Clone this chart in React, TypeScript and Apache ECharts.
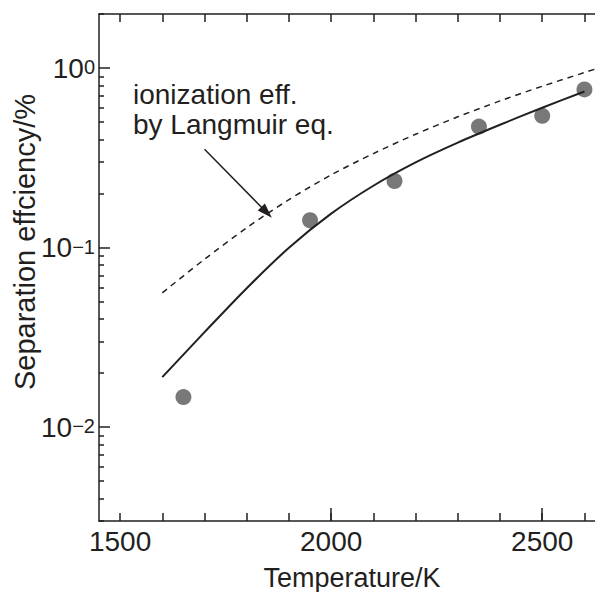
import React, { useEffect, useRef } from "react";
import * as echarts from "echarts";

// Measured separation efficiency (%)
const POINT_T = [1650, 1950, 2150, 2350, 2500, 2600];
const POINT_EFF = [0.0147, 0.142, 0.235, 0.472, 0.542, 0.76];

// Fitted curve (solid)
const FIT_T = [1600, 1700, 1800, 1900, 2000, 2100, 2200, 2300, 2400, 2500, 2600];
const FIT_EFF = [0.019, 0.0338, 0.0594, 0.0998, 0.1545, 0.221, 0.298, 0.384, 0.483, 0.601, 0.74];

// Ionization efficiency by Langmuir eq. (dashed)
const LANG_T = [1600, 1700, 1800, 1900, 2000, 2100, 2200, 2300, 2400, 2500, 2600, 2625];
const LANG_EFF = [0.056, 0.0861, 0.129, 0.185, 0.254, 0.334, 0.428, 0.535, 0.656, 0.792, 0.944, 0.986];

// Arrow (annotation) from / to
const ARROW_FROM = [1700, 0.353];
const ARROW_TO = [1847, 0.157];

// Axes
const X_MIN = 1450;
const X_MAX = 2625;
const Y_MIN = 0.003;
const Y_MAX = 2;
const X_TICKS = [1500, 1600, 1700, 1800, 1900, 2000, 2100, 2200, 2300, 2400, 2500, 2600];
const X_MAJOR = [2000, 2500];
const X_LABELS = [1500, 2000, 2500];
const Y_MINOR = [0.003, 0.004, 0.005, 0.006, 0.007, 0.008, 0.009, 0.02, 0.03, 0.04, 0.05, 0.06, 0.07, 0.08, 0.09, 0.2, 0.3, 0.4, 0.5, 0.6, 0.7, 0.8, 0.9, 2];
const Y_MAJOR = [0.01, 0.1, 1];

const INK = "#231f20";
const FONT = "'Liberation Sans', Arial, Helvetica, sans-serif";

const lg = (v: number) => Math.log10(v);

export default function App() {
  const ref = useRef<HTMLDivElement>(null);
  useEffect(() => {
    if (!ref.current) return;
    const chart = echarts.init(ref.current, null, { renderer: "svg" });
    const lmin = lg(Y_MIN);
    const lmax = lg(Y_MAX);
    const axisLineStyle = { color: INK, width: 1.5 };
    const tickStyle = { color: INK, width: 1.5 };
    const option: any = {
      animation: false,
      backgroundColor: "#ffffff",
      textStyle: { fontFamily: FONT },
      grid: { left: 99, top: 14, width: 496, height: 507, containLabel: false, outerBoundsMode: "none" },
      xAxis: [
        {
          type: "value",
          position: "bottom",
          min: X_MIN,
          max: X_MAX,
          axisLine: { show: true, onZero: false, lineStyle: axisLineStyle },
          axisTick: { show: true, inside: true, length: 8, customValues: X_TICKS, lineStyle: tickStyle },
          axisLabel: {
            customValues: X_LABELS,
            formatter: (v: number) => String(v),
            fontSize: 28,
            color: INK,
            fontFamily: FONT,
            margin: 6,
          },
          splitLine: { show: false },
        },
        {
          type: "value",
          position: "bottom",
          min: X_MIN,
          max: X_MAX,
          axisLine: { show: false, onZero: false },
          axisTick: { show: true, inside: true, length: 13, customValues: X_MAJOR, lineStyle: tickStyle },
          axisLabel: { show: false },
          splitLine: { show: false },
        },
        {
          type: "value",
          position: "top",
          min: X_MIN,
          max: X_MAX,
          axisLine: { show: true, onZero: false, lineStyle: axisLineStyle },
          axisTick: { show: true, inside: true, length: 8, customValues: X_TICKS, lineStyle: tickStyle },
          axisLabel: { show: false },
          splitLine: { show: false },
        },
      ],
      yAxis: [
        {
          type: "value",
          position: "left",
          min: lmin,
          max: lmax,
          axisLine: { show: true, onZero: false, lineStyle: axisLineStyle },
          axisTick: { show: true, inside: true, length: 5, customValues: Y_MINOR.map(lg), lineStyle: tickStyle },
          axisLabel: {
            customValues: Y_MAJOR.map(lg),
            margin: 4,
            formatter: (v: number) => {
              const e = Math.round(v);
              const s = e < 0 ? "\u2212" + String(-e) : String(e);
              return "{b|10}{s|" + s + "}";
            },
            rich: {
              b: { fontSize: 28, fontFamily: FONT, color: INK, lineHeight: 28, verticalAlign: "bottom", padding: [20, 0, 0, 0] },
              s: { fontSize: 20, fontFamily: FONT, color: INK, lineHeight: 20, verticalAlign: "top", padding: [3, 0, 0, 0] },
            },
          },
          splitLine: { show: false },
        },
        {
          type: "value",
          position: "left",
          min: lmin,
          max: lmax,
          axisLine: { show: false, onZero: false },
          axisTick: { show: true, inside: true, length: 11, customValues: Y_MAJOR.map(lg), lineStyle: tickStyle },
          axisLabel: { show: false },
          splitLine: { show: false },
        },
      ],
      series: [
        {
          type: "line",
          name: "Langmuir",
          data: LANG_T.map((t, i) => [t, lg(LANG_EFF[i])]),
          smooth: 0.3,
          symbol: "none",
          lineStyle: { color: INK, width: 1.5, type: [6, 5] },
          z: 2,
          markLine: {
            silent: true,
            symbol: ["none", "path://M5,0L10,16L0,16Z"],
            symbolSize: [10, 15],
            label: { show: false },
            lineStyle: { color: INK, width: 1.5, type: "solid" },
            data: [
              [
                { coord: [ARROW_FROM[0], lg(ARROW_FROM[1])] },
                { coord: [ARROW_TO[0], lg(ARROW_TO[1])] },
              ],
            ],
          },
        },
        {
          type: "line",
          name: "Fit",
          data: FIT_T.map((t, i) => [t, lg(FIT_EFF[i])]),
          smooth: 0.3,
          symbol: "none",
          lineStyle: { color: INK, width: 2 },
          z: 3,
        },
        {
          type: "scatter",
          name: "Measured",
          data: POINT_T.map((t, i) => [t, lg(POINT_EFF[i])]),
          symbol: "circle",
          symbolSize: 16,
          itemStyle: { color: "#565658" },
          z: 2,
        },
      ],
      graphic: [
        {
          type: "text",
          left: 133,
          top: 80,
          style: {
            text: "ionization eff.\nby Langmuir eq.",
            fontSize: 28,
            lineHeight: 29.5,
            fontFamily: FONT,
            fill: INK,
          },
        },
        {
          type: "text",
          x: 352,
          y: 578,
          style: {
            text: "Temperature/K",
            fontSize: 27,
            fontFamily: FONT,
            fill: INK,
            align: "center",
            verticalAlign: "middle",
          },
        },
        {
          type: "text",
          x: 25,
          y: 242,
          rotation: Math.PI / 2,
          style: {
            text: "Separation effciency/%",
            fontSize: 29,
            fontFamily: FONT,
            fill: INK,
            align: "center",
            verticalAlign: "middle",
          },
        },
      ],
    };
    chart.setOption(option);
    return () => chart.dispose();
  }, []);
  return (
    <div
      ref={ref}
      style={{ position: "fixed", left: 0, top: 0, width: 595, height: 592, background: "#fff" }}
    />
  );
}
